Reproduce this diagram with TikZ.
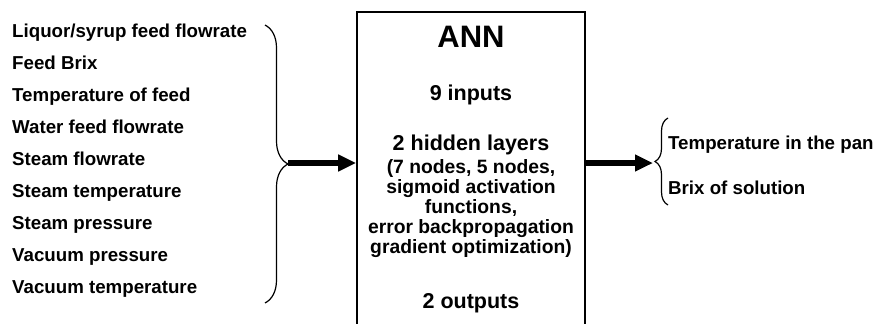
\documentclass[tikz,border=0pt]{standalone}
\usepackage{fontspec}
\setmainfont{Liberation Sans}
\usepackage{tikz}
\usetikzlibrary{arrows.meta, decorations.pathreplacing, positioning, calc}
\tikzstyle{inlabel} = [anchor=base west, inner sep=0pt, font=\bfseries\fontsize{18.7}{20}\selectfont]
\tikzstyle{outlabel} = [anchor=base west, inner sep=0pt, font=\bfseries\fontsize{18.7}{20}\selectfont]
\tikzstyle{netbox} = [rectangle, draw=black, line width=1.8pt, minimum width=228pt, minimum height=340pt, anchor=north]
\tikzstyle{title} = [anchor=base, inner sep=0pt, font=\bfseries\fontsize{31}{34}\selectfont]
\tikzstyle{detail} = [anchor=base, inner sep=0pt, font=\bfseries\fontsize{21.5}{24}\selectfont]
\tikzstyle{smalldetail} = [anchor=base, inner sep=0pt, font=\bfseries\fontsize{19.3}{20}\selectfont]
\tikzstyle{bigarrow} = [line width=6.5pt, -{Triangle[length=18pt, width=16pt]}]
\tikzstyle{bigbrace} = [decorate, line width=1.2pt]

\begin{document}
\begin{tikzpicture}[x=1pt, y=-1pt]
\clip (0,0) rectangle (879,324);
% inputs
\node (in1) [inlabel] at (12,37) {Liquor/syrup feed flowrate};
\node (in2) [inlabel] at (12,69) {Feed Brix};
\node (in3) [inlabel] at (12,101) {Temperature of feed};
\node (in4) [inlabel] at (12,133) {Water feed flowrate};
\node (in5) [inlabel] at (12,165) {Steam flowrate};
\node (in6) [inlabel] at (12,197) {Steam temperature};
\node (in7) [inlabel] at (12,229) {Steam pressure};
\node (in8) [inlabel] at (12,261) {Vacuum pressure};
\node (in9) [inlabel] at (12,293) {Vacuum temperature};
\coordinate (btop) at (265,25);
\coordinate (bbot) at (265,303);
\coordinate (btip) at (288,163);
\draw [bigbrace, decoration={brace, amplitude=23pt}] (btop) -- (bbot);

% network
\node (ann) [netbox] at (471,11) {};
\node (name) [title] at (471,47) {ANN};
\node (nin) [detail] at (471,100) {9 inputs};
\node (hid) [detail] at (471,150) {2 hidden layers};
\node (h1) [smalldetail] at (471,173) {(7 nodes, 5 nodes,};
\node (h2) [smalldetail] at (471,193) {sigmoid activation};
\node (h3) [smalldetail] at (471,213) {functions,};
\node (h4) [smalldetail] at (471,233) {error backpropagation};
\node (h5) [smalldetail] at (471,253) {gradient optimization)};
\node (nout) [detail] at (471,308) {2 outputs};

% outputs
\coordinate (otop) at (668,118);
\coordinate (obot) at (668,205);
\coordinate (otip) at (653,163);
\draw [bigbrace, decoration={brace, amplitude=13pt}] (obot) -- (otop);
\node (out1) [outlabel] at (668,149) {Temperature in the pan};
\node (out2) [outlabel] at (668,194) {Brix of solution};

\draw [bigarrow] (btip) -- (btip -| ann.west);
\draw [bigarrow] (otip -| ann.east) -- (otip);
\end{tikzpicture}
\end{document}
